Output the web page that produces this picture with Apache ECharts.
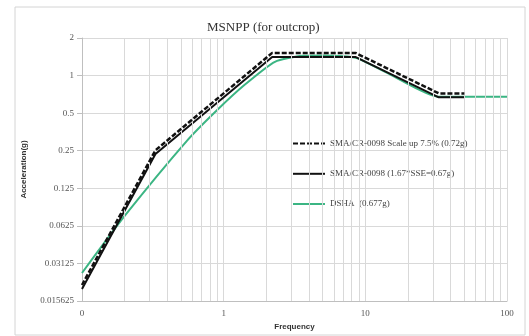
<!DOCTYPE html>
<html>
<head>
<meta charset="utf-8">
<script src="https://cdn.jsdelivr.net/npm/echarts@6/dist/echarts.min.js"></script>
<style>
  html, body { margin: 0; padding: 0; background: #fff; }
  #main { width: 529px; height: 336px; }
</style>
</head>
<body>
<div id="main"></div>
<script>
// SMA/CR-0098 spectrum
const smaFreq = [0.1, 0.33, 2.2, 8.5, 33, 50];
const smaAcc = [0.0195, 0.235, 1.41, 1.41, 0.67, 0.67];
// scaled up 7.5 %
const scaledAcc = [0.021, 0.252, 1.52, 1.52, 0.72, 0.72];
// DSHA
const dshaFreq = [0.1, 0.2, 0.55, 0.9, 1.4, 2.3, 3.6, 5, 7.5, 9, 15, 33, 100];
const dshaAcc = [0.0262, 0.075, 0.3, 0.53, 0.84, 1.29, 1.44, 1.45, 1.42, 1.36, 1.02, 0.677, 0.677];

const xTickLabels = ['0', '1', '10', '100'];
const yTickLabels = ['0.015625', '0.03125', '0.0625', '0.125', '0.25', '0.5', '1', '2'];
const xMinorGrid = [0.2, 0.3, 0.4, 0.5, 0.6, 0.7, 0.8, 0.9, 2, 3, 4, 5, 6, 7, 8, 9, 20, 30, 40, 50, 60, 70, 80, 90];

const pairs = (xs, ys) => xs.map((x, i) => [x, ys[i]]);

const serif = '"Liberation Serif", "DejaVu Serif", serif';
const gridColor = '#d9d9d9';

const chart = echarts.init(document.getElementById('main'));
chart.setOption({
  animation: false,
  backgroundColor: '#fff',
  title: {
    text: 'MSNPP (for outcrop)',
    left: 202,
    top: 16,
    textStyle: { fontFamily: serif, fontSize: 13, fontWeight: 'normal', color: '#333' }
  },
  graphic: [{
    type: 'rect',
    shape: { x: 15, y: 7, width: 510, height: 328 },
    style: { fill: 'none', stroke: '#d4d4d4', lineWidth: 1 },
    silent: true
  }],
  legend: {
    orient: 'vertical',
    left: 287,
    top: 133,
    itemWidth: 32,
    itemHeight: 14,
    itemGap: 19,
    itemStyle: { opacity: 0 },
    textStyle: { fontFamily: serif, fontSize: 9, color: '#444' },
    data: ['SMA/CR-0098 Scale up 7.5% (0.72g)', 'SMA/CR-0098 (1.67*SSE=0.67g)', 'DSHA  (0.677g)']
  },
  grid: { left: 82, right: 22, top: 38, bottom: 34 },
  xAxis: {
    type: 'log',
    logBase: 10,
    min: 0.1,
    max: 100,
    splitNumber: 3,
    name: 'Frequency',
    nameLocation: 'middle',
    nameGap: 22,
    nameTextStyle: { fontFamily: '"Liberation Sans", sans-serif', fontSize: 8, fontWeight: 'bold', color: '#333' },
    axisLine: { lineStyle: { color: '#bfbfbf' } },
    axisTick: { show: false },
    axisLabel: {
      fontFamily: serif, fontSize: 9, color: '#555', margin: 8,
      formatter: v => xTickLabels[Math.round(Math.log10(v)) + 1]
    },
    splitLine: { lineStyle: { color: gridColor } }
  },
  yAxis: {
    type: 'log',
    logBase: 2,
    min: 0.015625,
    max: 2,
    splitNumber: 7,
    name: 'Acceleration(g)',
    nameLocation: 'middle',
    nameGap: 54,
    nameTextStyle: { fontFamily: '"Liberation Sans", sans-serif', fontSize: 8, fontWeight: 'bold', color: '#333' },
    axisLine: { show: true, lineStyle: { color: '#bfbfbf' } },
    axisTick: { show: true, length: 5, lineStyle: { color: '#bfbfbf' } },
    axisLabel: {
      fontFamily: serif, fontSize: 9, color: '#555', margin: 8,
      formatter: v => yTickLabels[Math.round(Math.log2(v)) + 6]
    },
    splitLine: { lineStyle: { color: gridColor } }
  },
  series: [
    {
      type: 'line',
      name: 'minor',
      data: [],
      z: 1,
      silent: true,
      markLine: {
        silent: true,
        symbol: 'none',
        label: { show: false },
        lineStyle: { color: gridColor, type: 'solid', width: 1 },
        data: xMinorGrid.map(v => ({ xAxis: v }))
      }
    },
    {
      type: 'line',
      name: 'DSHA  (0.677g)',
      data: pairs(dshaFreq, dshaAcc),
      symbol: 'none',
      smooth: 0.2,
      z: 3,
      lineStyle: { color: '#3bb583', width: 2 },
      itemStyle: { color: '#3bb583' }
    },
    {
      type: 'line',
      name: 'SMA/CR-0098 (1.67*SSE=0.67g)',
      data: pairs(smaFreq, smaAcc),
      symbol: 'none',
      z: 4,
      lineStyle: { color: '#111', width: 2 },
      itemStyle: { color: '#111' }
    },
    {
      type: 'line',
      name: 'SMA/CR-0098 Scale up 7.5% (0.72g)',
      data: pairs(smaFreq, scaledAcc),
      symbol: 'none',
      z: 5,
      lineStyle: { color: '#111', width: 2.5, type: [5, 2] },
      itemStyle: { color: '#111' }
    }
  ]
});
</script>
</body>
</html>
